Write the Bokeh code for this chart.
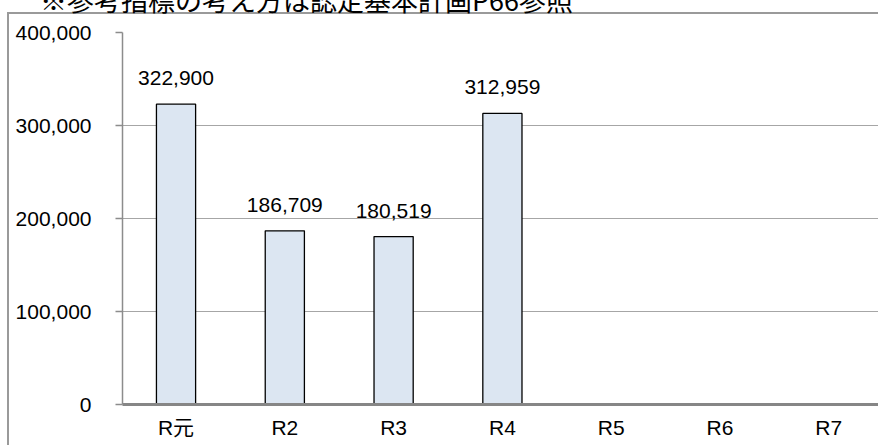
from bokeh.plotting import figure
from bokeh.models import ColumnDataSource, LabelSet, Range1d, FixedTicker, NumeralTickFormatter, Div
from bokeh.layouts import column
from bokeh.core.properties import value
from bokeh.embed import file_html
from bokeh.resources import INLINE

# ---- data ----
categories = ["R元", "R2", "R3", "R4", "R5", "R6", "R7"]
values = [322900, 186709, 180519, 312959, float("nan"), float("nan"), float("nan")]
label_texts = ["322,900", "186,709", "180,519", "312,959", "", "", ""]
y_ticks = [0, 100000, 200000, 300000, 400000]
title_text = "※参考指標の考え方は認定基本計画P66参照"

FONT = "Liberation Sans, Noto Sans CJK JP"

xs = list(range(len(categories)))
src = ColumnDataSource(dict(x=xs, top=values, lab=label_texts))

W, H = 878, 445
p = figure(width=W, height=H, output_backend="svg", toolbar_location=None,
           x_range=Range1d(-0.492, 6.457), y_range=Range1d(0, 400000),
           min_border_left=122, min_border_right=0, min_border_top=32, min_border_bottom=41)
p.outline_line_color = None
p.background_fill_color = "white"
p.border_fill_color = None
# outer chart-area border (left and top edges, drawn behind the transparent canvas)
p.styles = {
    "background": ("linear-gradient(#9a9a9a,#9a9a9a) 7px 12px / 2px 100% no-repeat, "
                   "linear-gradient(#9a9a9a,#9a9a9a) 7px 12px / 100% 2px no-repeat, white"),
}

p.vbar(x="x", top="top", bottom=0, width=0.36, source=src,
       fill_color="#dce6f2", line_color="black", line_width=1.3)

labels = LabelSet(x="x", y="top", text="lab", source=src, text_align="center",
                  text_baseline="middle", y_offset=26, text_font=value(FONT),
                  text_font_size="21px", text_color="black")
p.add_layout(labels)

# axes
p.yaxis.ticker = FixedTicker(ticks=y_ticks)
p.yaxis.formatter = NumeralTickFormatter(format="0,0")
p.yaxis.major_label_text_font = FONT
p.yaxis.major_label_text_font_size = "21px"
p.yaxis.major_label_text_color = "black"
p.yaxis.major_tick_out = 7
p.yaxis.major_tick_in = 0
p.yaxis.minor_tick_out = 0
p.yaxis.minor_tick_in = 0
p.yaxis.major_label_standoff = 24
p.yaxis.axis_line_color = "#8c8c8c"
p.yaxis.axis_line_width = 1.5
p.yaxis.major_tick_line_color = "#8c8c8c"
p.yaxis.major_tick_line_width = 1.5

p.xaxis.ticker = FixedTicker(ticks=xs)
p.xaxis.major_label_overrides = {i: c for i, c in enumerate(categories)}
p.xaxis.major_label_text_font = FONT
p.xaxis.major_label_text_font_size = "21px"
p.xaxis.major_label_text_color = "black"
p.xaxis.major_tick_out = 0
p.xaxis.major_tick_in = 0
p.xaxis.minor_tick_out = 0
p.xaxis.minor_tick_in = 0
p.xaxis.major_label_standoff = 11
p.xaxis.axis_line_color = "#868686"
p.xaxis.axis_line_width = 3

p.xgrid.grid_line_color = None
p.ygrid.ticker = FixedTicker(ticks=y_ticks)
p.ygrid.grid_line_color = "#a6a6a6"
p.ygrid.grid_line_width = 1.2

# title text, sitting above the chart area (cut off at the top, as in the reference)
title = Div(text=title_text, styles={
    "position": "absolute", "left": "40px", "top": "-14px", "z-index": "2",
    "font-family": "'Noto Sans CJK JP'", "font-size": "27px", "line-height": "1",
    "white-space": "nowrap", "color": "black", "margin": "0", "padding": "0",
})

root = column(title, p, spacing=0)
open("out.html", "w").write(file_html(root, INLINE))
